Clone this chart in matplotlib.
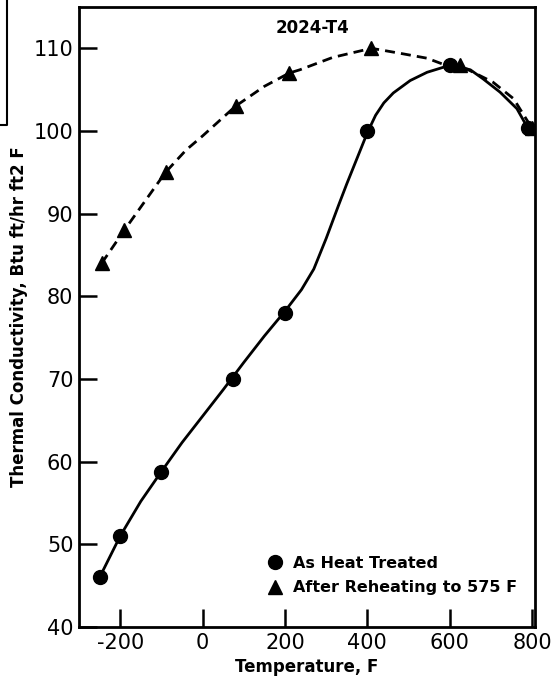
import matplotlib
matplotlib.use('Agg')
import matplotlib.pyplot as plt
from matplotlib.lines import Line2D

plt.rcParams['font.family'] = ['DejaVu Sans']

# measured points
heat_T = [-250, -200, -100, 75, 200, 400, 600, 790]
heat_k = [46, 51, 58.8, 70, 78, 100, 108, 100.3]
reheat_T = [-245, -190, -90, 80, 210, 410, 625, 800]
reheat_k = [84, 88, 95, 103, 107, 110, 108, 100.3]

# faired curves
heat_curve_T = [-250, -200, -150, -100, -50, 0, 50, 100, 150, 200, 240, 270,
                300, 330, 350, 375, 400, 420, 440, 463, 504, 545, 584, 610,
                650, 681, 722, 763, 790]
heat_curve_k = [46, 51, 55.2, 58.8, 62.3, 65.5, 68.7, 72, 75.2, 78.2, 80.8, 83.3,
                87.0, 91.0, 93.6, 96.7, 99.8, 101.9, 103.4, 104.6, 106.1, 107.1, 107.7,
                107.9, 107.4, 106.3, 104.7, 102.7, 100.3]
reheat_curve_T = [-245, -190, -150, -90, -40, 0, 80, 150, 210, 236, 316, 410,
                  479, 545, 593, 641, 705, 755, 800]
reheat_curve_k = [84, 88, 90.8, 95, 97.7, 99.4, 103, 105.4, 107, 107.4, 108.9, 110,
                  109.4, 108.8, 107.9, 107.5, 105.9, 103.9, 100.3]

x_ticks = [-200, 0, 200, 400, 600, 800]
y_ticks = [40, 50, 60, 70, 80, 90, 100, 110]

fig = plt.figure(figsize=(5.51, 6.77), dpi=100)
ax = fig.add_axes([0.1434, 0.0739, 0.8276, 0.9158])

ax.plot(heat_curve_T, heat_curve_k, color='black', lw=2)
ax.plot(reheat_curve_T, reheat_curve_k, color='black', lw=2,
        linestyle=(0, (3.6, 2.2)))
ax.plot(heat_T, heat_k, 'o', color='black', markersize=10)
ax.plot(reheat_T, reheat_k, '^', color='black', markersize=10)

ax.set_xlim(-300, 807)
ax.set_ylim(40, 115)
ax.set_xticks(x_ticks)
ax.set_xticklabels(['-200', '0', '200', '400', '600', '800'])
ax.set_yticks(y_ticks)
ax.tick_params(direction='in', length=13, width=1.8, labelsize=15, pad=4)
for s in ax.spines.values():
    s.set_linewidth(2)

ax.text(268, 112.4, '2024-T4', fontsize=12, fontweight='bold',
        ha='center', va='center')

handles = [Line2D([], [], marker='o', color='black', ls='none', markersize=10),
           Line2D([], [], marker='^', color='black', ls='none', markersize=10)]
ax.legend(handles, ['As Heat Treated', 'After Reheating to 575 F'],
          loc='center left', bbox_to_anchor=(0.399, 0.083), frameon=False,
          borderpad=0, handlelength=0.8, handletextpad=0.7, labelspacing=0.6,
          prop={'size': 11.5, 'weight': 'bold'})

ax.set_xlabel('Temperature, F', fontsize=12, fontweight='bold', labelpad=4)
ax.set_ylabel('Thermal Conductivity, Btu ft/hr ft2 F', fontsize=12,
              fontweight='bold', labelpad=4)

# scan artifact on the left edge
fig.add_artist(Line2D([0.013, 0.013, 0.002], [1.0, 0.815, 0.815],
                      transform=fig.transFigure, color='black', lw=1.5))

fig.savefig('out.png', dpi=100)
